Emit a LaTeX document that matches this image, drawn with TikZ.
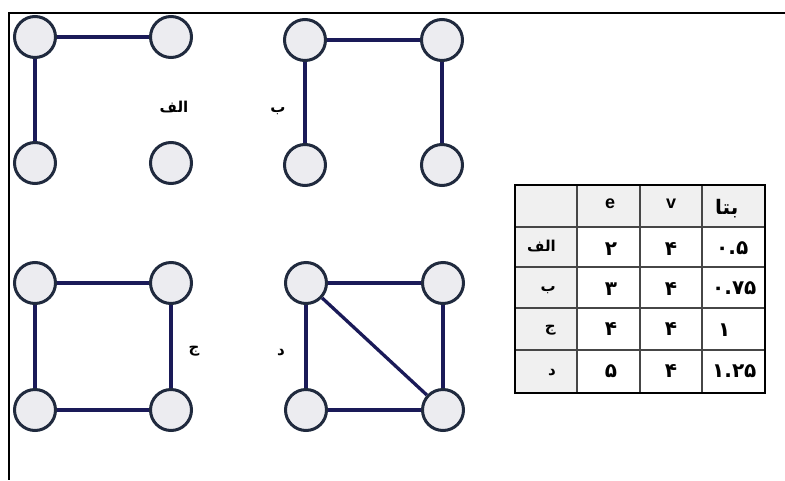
\documentclass[tikz,border=0pt]{standalone}
\usepackage{fontspec}
\setmainfont{DejaVu Sans}
\newfontfamily\farsi[Script=Arabic]{DejaVu Sans}
\newfontfamily\latinb{Liberation Sans}
\TeXXeTstate=1
\usepackage{tikz}
\usepackage{xcolor}
\definecolor{vtxline}{RGB}{32,42,62}
\definecolor{vtxfill}{RGB}{236,236,240}
\definecolor{edgeblue}{RGB}{26,26,88}
\definecolor{cellgray}{RGB}{240,240,240}
\definecolor{gridgray}{RGB}{70,70,70}

\begin{document}
\begin{tikzpicture}[x=1pt, y=-1pt,
    vertex/.style={circle, draw=vtxline, fill=vtxfill, line width=3pt, minimum size=41pt, inner sep=0pt},
    edge/.style={draw=edgeblue, line width=3.3pt},
    lbl/.style={font=\farsi\bfseries\fontsize{15}{17}\selectfont},
    rowlbl/.style={font=\farsi\bfseries\fontsize{15}{17}\selectfont, inner sep=0pt, anchor=east},
    num/.style={font=\farsi\bfseries\fontsize{20}{22}\selectfont, inner sep=0pt},
    head/.style={font=\latinb\bfseries\fontsize{18}{20}\selectfont, inner sep=0pt}]
        \useasboundingbox (0,0) rectangle (785,480);
        % Frame
        \draw [line width=2pt] (785,13) -- (9,13) -- (9,480);
        % Graph alef
        \node [vertex] (a1) at (35,37) {};
        \node [vertex] (a2) at (171,37) {};
        \node [vertex] (a3) at (35,163) {};
        \node [vertex] (a4) at (171,163) {};
        \draw [edge] (a1) -- (a2);
        \draw [edge] (a1) -- (a3);
        \node [lbl] (la) at (174,107) {\beginR الف\endR};
        % Graph be
        \node [vertex] (b1) at (305,40) {};
        \node [vertex] (b2) at (442,40) {};
        \node [vertex] (b3) at (305,165) {};
        \node [vertex] (b4) at (442,165) {};
        \draw [edge] (b1) -- (b2);
        \draw [edge] (b1) -- (b3);
        \draw [edge] (b2) -- (b4);
        \node [lbl] (lb) at (278,111) {\beginR ب\endR};
        % Graph jim
        \node [vertex] (c1) at (35,283) {};
        \node [vertex] (c2) at (171,283) {};
        \node [vertex] (c3) at (35,410) {};
        \node [vertex] (c4) at (171,410) {};
        \draw [edge] (c1) -- (c2) -- (c4) -- (c3) -- (c1);
        \node [lbl] (lc) at (194,351) {\beginR ج\endR};
        % Graph dal
        \node [vertex] (d1) at (306,283) {};
        \node [vertex] (d2) at (443,283) {};
        \node [vertex] (d3) at (306,410) {};
        \node [vertex] (d4) at (443,410) {};
        \draw [edge] (d1) -- (d2) -- (d4) -- (d3) -- (d1);
        \draw [edge] (d1) -- (d4);
        \node [lbl] (ld) at (281,353) {\beginR د\endR};
        % Table
        \fill [cellgray] (515,185) rectangle (765,227);
        \fill [cellgray] (515,227) rectangle (577,393);
        \foreach \x in {577,640,702} \draw [gridgray, line width=1.1pt] (\x,185) -- (\x,393);
        \foreach \y in {227,267,308,350} \draw [gridgray, line width=1.1pt] (515,\y) -- (765,\y);
        \draw [line width=1.8pt] (515,185) rectangle (765,393);
        % Header
        \node [head] (he) at (610,204) {e};
        \node [head] (hv) at (671,204) {v};
        \node [num, anchor=west] (hb) at (715,209) {\beginR بتا\endR};
        % Rows
        \node [rowlbl] (r1) at (556,246) {\beginR الف\endR};
        \node [rowlbl] (r2) at (556,290) {\beginR ب\endR};
        \node [rowlbl] (r3) at (556,330) {\beginR ج\endR};
        \node [rowlbl] (r4) at (556,373) {\beginR د\endR};
        \node [num] (e1) at (611,249) {۲};
        \node [num] (e2) at (611,289) {۳};
        \node [num] (e3) at (611,329) {۴};
        \node [num] (e4) at (611,371) {۵};
        \node [num] (v1) at (671,249) {۴};
        \node [num] (v2) at (671,289) {۴};
        \node [num] (v3) at (671,329) {۴};
        \node [num] (v4) at (671,371) {۴};
        \node [num, anchor=west] (t1) at (716,248) {۰.۵};
        \node [num, anchor=west] (t2) at (712,288) {۰.۷۵};
        \node [num, anchor=west] (t3) at (718,330) {۱};
        \node [num, anchor=west] (t4) at (712,371) {۱.۲۵};
    \end{tikzpicture}
\end{document}
